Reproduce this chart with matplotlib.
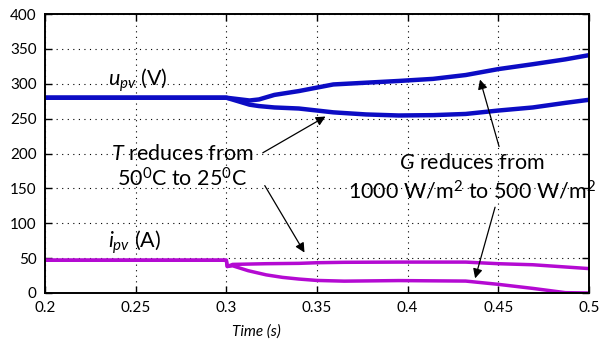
import matplotlib
matplotlib.use("Agg")
import matplotlib.pyplot as plt

plt.rcParams['font.family'] = ['Lato', 'DejaVu Sans']
plt.rcParams['mathtext.fontset'] = 'custom'
plt.rcParams['mathtext.rm'] = 'Lato'
plt.rcParams['mathtext.it'] = 'Lato:italic'

# Voltage (V)
t_u_T = [0.2, 0.3, 0.3128, 0.318, 0.3265, 0.340, 0.359, 0.377, 0.395, 0.414, 0.432, 0.450, 0.469, 0.487, 0.5]
u_T = [280, 280, 270, 268, 266, 264.5, 259, 256, 254.5, 255, 256.7, 261.6, 266, 272.6, 277]
t_u_G = [0.2, 0.3, 0.3128, 0.318, 0.3265, 0.340, 0.359, 0.377, 0.395, 0.414, 0.432, 0.450, 0.469, 0.487, 0.5]
u_G = [280, 280, 276, 277.5, 284, 289.5, 299, 301.5, 304, 307, 312.5, 321, 328, 335, 341]

# Current (A)
t_i_G = [0.2, 0.3, 0.3005, 0.3035, 0.322, 0.34, 0.35, 0.365, 0.395, 0.432, 0.45, 0.469, 0.5]
i_G = [47, 47, 38, 41, 42, 42.5, 43.4, 44, 44.3, 44.3, 42, 40.5, 35]
t_i_T = [0.2, 0.3, 0.3005, 0.3035, 0.312, 0.322, 0.331, 0.34, 0.35, 0.365, 0.395, 0.432, 0.45, 0.469, 0.487, 0.5]
i_T = [47, 47, 38, 39, 32, 26, 22.4, 20, 18, 17, 17.8, 17.1, 12.4, 6.6, 0.5, 0]

xticks = [0.2, 0.25, 0.3, 0.35, 0.4, 0.45, 0.5]
xticklabels = ['0.2', '0.25', '0.3', '0.35', '0.4', '0.45', '0.5']
yticks = [0, 50, 100, 150, 200, 250, 300, 350, 400]

blue = '#0c0cc4'
mag = '#b40ad2'

W, H = 606, 358
fig = plt.figure(figsize=(W / 100, H / 100), dpi=100)
ax = fig.add_axes([45 / W, 1 - 293 / H, (589 - 45) / W, (293 - 14) / H])

ax.plot(t_u_T, u_T, color=blue, lw=3.2, solid_capstyle='butt')
ax.plot(t_u_G, u_G, color=blue, lw=3.2, solid_capstyle='butt')
ax.plot(t_i_G, i_G, color=mag, lw=2.5, solid_capstyle='butt')
ax.plot(t_i_T, i_T, color=mag, lw=2.5, solid_capstyle='butt')

ax.set_xlim(0.2, 0.5)
ax.set_ylim(0, 400)
ax.set_xticks(xticks)
ax.set_xticklabels(xticklabels)
ax.set_yticks(yticks)
ax.tick_params(direction='in', top=True, right=True, labelsize=11, length=5, width=1, pad=6)
ax.grid(True, color='black', linestyle=(0, (1, 4)), linewidth=0.8)
for s in ax.spines.values():
    s.set_linewidth(1.4)

fs = 15.5
ax.text(0.2346, 305, r'$u_{pv}$ (V)', fontsize=fs, ha='left', va='center')
ax.text(0.2346, 73, r'$i_{pv}$ (A)', fontsize=fs, ha='left', va='center')
ax.text(0.2758, 200, r'$T$ reduces from', fontsize=fs, ha='center', va='center')
ax.text(0.2755, 164, r'50$^0$C to 25$^0$C', fontsize=fs, ha='center', va='center')
ax.text(0.4352, 186, r'$G$ reduces from', fontsize=fs, ha='center', va='center')
ax.text(0.4355, 145, r'1000 W/m$^2$ to 500 W/m$^2$', fontsize=fs, ha='center', va='center')

ap = dict(arrowstyle='-|>', color='black', lw=0.9, mutation_scale=14, shrinkA=0, shrinkB=0)
ax.annotate('', xy=(0.3547, 253), xytext=(0.3201, 201), arrowprops=ap)
ax.annotate('', xy=(0.3431, 58), xytext=(0.3212, 154), arrowprops=ap)
ax.annotate('', xy=(0.4399, 306), xytext=(0.4504, 210), arrowprops=ap)
ax.annotate('', xy=(0.4372, 21), xytext=(0.4482, 123), arrowprops=ap)

fig.text(256 / W, 1 - 332 / H, 'Time (s)', fontsize=11, style='italic', ha='center', va='center')

fig.savefig('out.png', dpi=100)
